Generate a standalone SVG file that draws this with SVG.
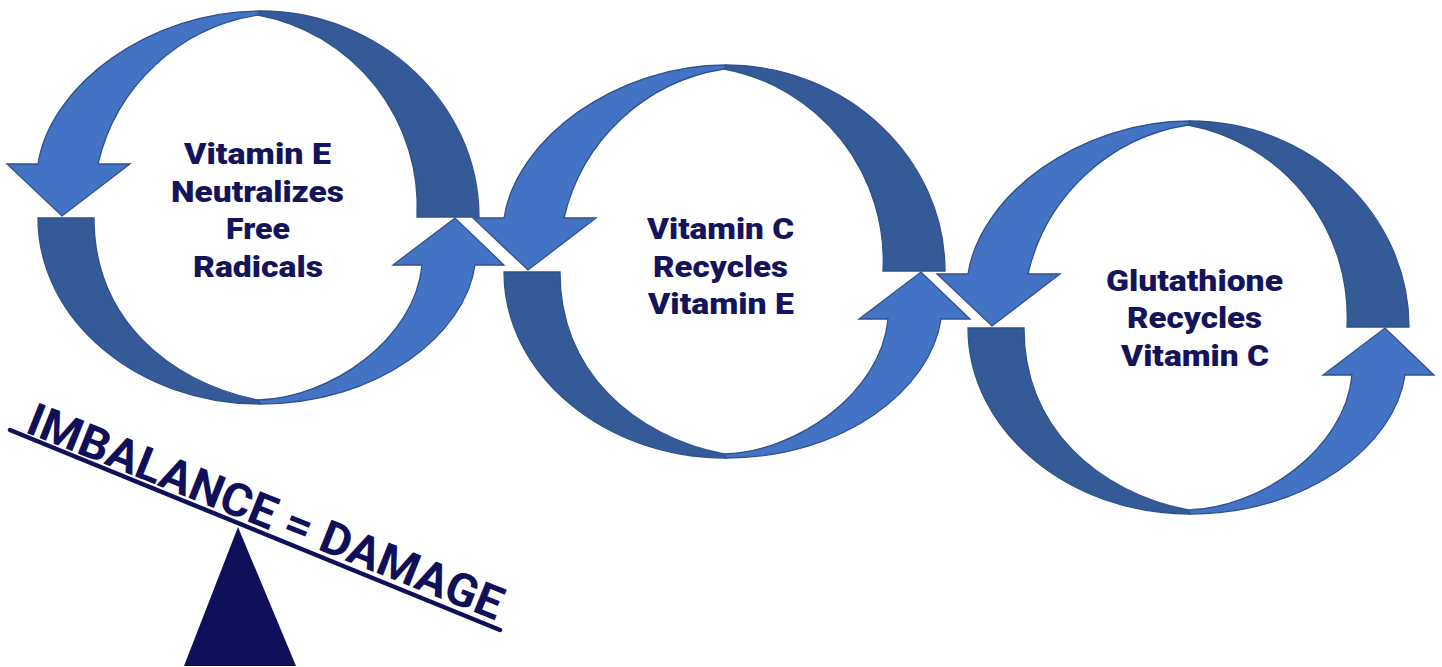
<svg xmlns="http://www.w3.org/2000/svg" xmlns:xlink="http://www.w3.org/1999/xlink" width="1442" height="667" viewBox="0 0 1442 667">
<style>
.lt{fill:#4472C4;stroke:#2F528F;stroke-width:1.3;stroke-linejoin:miter}
.dk{fill:#355A98;stroke:#2F528F;stroke-width:1.3}
.lbl{font-family:Roboto,"Liberation Sans",sans-serif;font-weight:900;font-size:30px;fill:#14145C;text-anchor:middle}
.big{font-family:Roboto,"Liberation Sans",sans-serif;font-weight:700;font-size:46px;fill:#10105A}
</style>
<defs>
<g id="cycle">
<path class="dk" d="M260 11 C380 11 479 104 479 217 L417 217 A195 195 0 0 0 258 15 Z"/>
<path class="lt" d="M260 11 C150 11 50 85 38 164 L7 164 L62 216 L130 164 L98 164 A195 195 0 0 1 258 15 Z"/>
<path class="dk" d="M38 218 L94 218 C94 318 168 382 258 400 L260 404 C138 404 38 320 38 218 Z"/>
<path class="lt" d="M260 404 C378 404 465 335 475 265 L504 265 L455 218 L393 265 L422 265 C415 340 330 398 258 400 Z"/>
</g>
</defs>
<g id="node-vitamin-e">
<use xlink:href="#cycle" href="#cycle"/>
<text class="lbl" x="257.5" y="164" textLength="147" lengthAdjust="spacingAndGlyphs">Vitamin E</text>
<text class="lbl" x="257.5" y="201.7" textLength="173" lengthAdjust="spacingAndGlyphs">Neutralizes</text>
<text class="lbl" x="258" y="239" textLength="64" lengthAdjust="spacingAndGlyphs">Free</text>
<text class="lbl" x="258" y="276.7" textLength="130" lengthAdjust="spacingAndGlyphs">Radicals</text>
</g>
<g id="node-vitamin-c">
<use xlink:href="#cycle" href="#cycle" transform="translate(466,54)"/>
<text class="lbl" x="720.5" y="239" textLength="147" lengthAdjust="spacingAndGlyphs">Vitamin C</text>
<text class="lbl" x="720.5" y="277" textLength="135" lengthAdjust="spacingAndGlyphs">Recycles</text>
<text class="lbl" x="721" y="314" textLength="146" lengthAdjust="spacingAndGlyphs">Vitamin E</text>
</g>
<g id="node-glutathione">
<use xlink:href="#cycle" href="#cycle" transform="translate(930,110)"/>
<text class="lbl" x="1194.5" y="291" textLength="177" lengthAdjust="spacingAndGlyphs">Glutathione</text>
<text class="lbl" x="1194.5" y="328" textLength="135" lengthAdjust="spacingAndGlyphs">Recycles</text>
<text class="lbl" x="1195" y="366" textLength="148" lengthAdjust="spacingAndGlyphs">Vitamin C</text>
</g>
<g id="seesaw">
<line x1="10" y1="430" x2="500" y2="630" stroke="#10105A" stroke-width="4.5" stroke-linecap="round"/>
<polygon points="238,527 184,666 296,666" fill="#10105A"/>
<text class="big" transform="translate(24,432) rotate(21.8)" textLength="508" lengthAdjust="spacingAndGlyphs">IMBALANCE = DAMAGE</text>
</g>
</svg>
